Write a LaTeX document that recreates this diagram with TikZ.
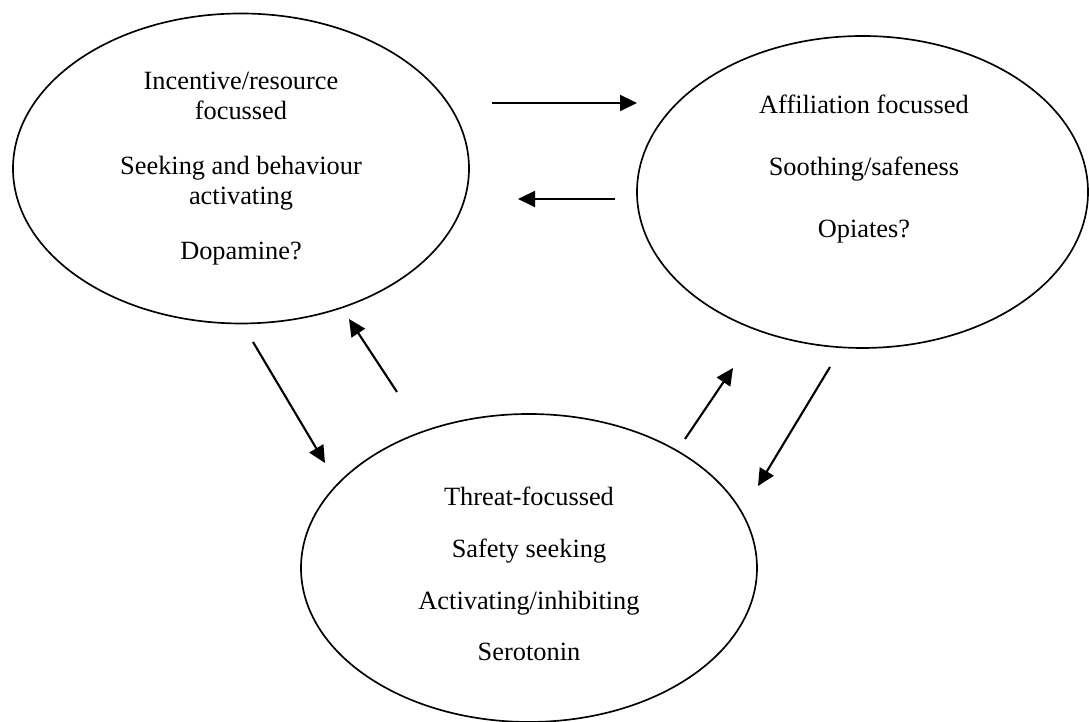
\documentclass[tikz,border=0pt]{standalone}
\usepackage{fontspec}
\setmainfont{Liberation Serif}
\usetikzlibrary{positioning,shapes.geometric,arrows.meta}

\begin{document}
\begin{tikzpicture}[
    system/.style={draw, ellipse, line width=0.95pt, minimum width=9.12cm, minimum height=6.2cm, inner sep=0pt},
    systext/.style={align=center, font=\fontsize{15}{17}\selectfont},
    arrow/.style={-{Triangle[length=0.34cm, width=0.32cm]}, line width=1.2pt}
]
\useasboundingbox (0,0) rectangle (21.78,14.44);

% The three systems
\node[system] (drive) at (4.82, 11.07) {};
\node[system, minimum width=9.02cm, minimum height=6.24cm] (soothe) at (17.25, 10.6) {};
\node[system, minimum height=6.16cm] (threat) at (10.58, 3.08) {};

\node[systext] (driveText) at (drive.center) {Incentive/resource\\focussed\\[14.5pt]
    Seeking and behaviour\\activating\\[14.5pt]Dopamine?};
\node[systext] (sootheText) at ([xshift=0.03cm, yshift=0.45cm]soothe.center) {Affiliation focussed\\[18.3pt]
    Soothing/safeness\\[18.3pt]Opiates?};
\node[systext] (threatText) at ([yshift=-0.12cm]threat.center) {Threat-focussed\\[12.5pt]
    Safety seeking\\[12.5pt]Activating/inhibiting\\[12.5pt]Serotonin};

% Arrow ends
\coordinate (dsA) at (9.84, 12.38);
\coordinate (dsB) at (12.74, 12.38);
\coordinate (sdA) at (12.30, 10.46);
\coordinate (sdB) at (10.36, 10.46);
\coordinate (dtA) at (5.06, 7.60);
\coordinate (dtB) at (6.50, 5.18);
\coordinate (tdA) at (7.94, 6.60);
\coordinate (tdB) at (6.98, 8.06);
\coordinate (tsA) at (13.70, 5.66);
\coordinate (tsB) at (14.66, 7.08);
\coordinate (stA) at (16.60, 7.10);
\coordinate (stB) at (15.16, 4.72);

% Arrows
\draw[arrow] (dsA) -- (dsB);
\draw[arrow] (sdA) -- (sdB);
\draw[arrow] (dtA) -- (dtB);
\draw[arrow] (tdA) -- (tdB);
\draw[arrow] (tsA) -- (tsB);
\draw[arrow] (stA) -- (stB);

\end{tikzpicture}
\end{document}
